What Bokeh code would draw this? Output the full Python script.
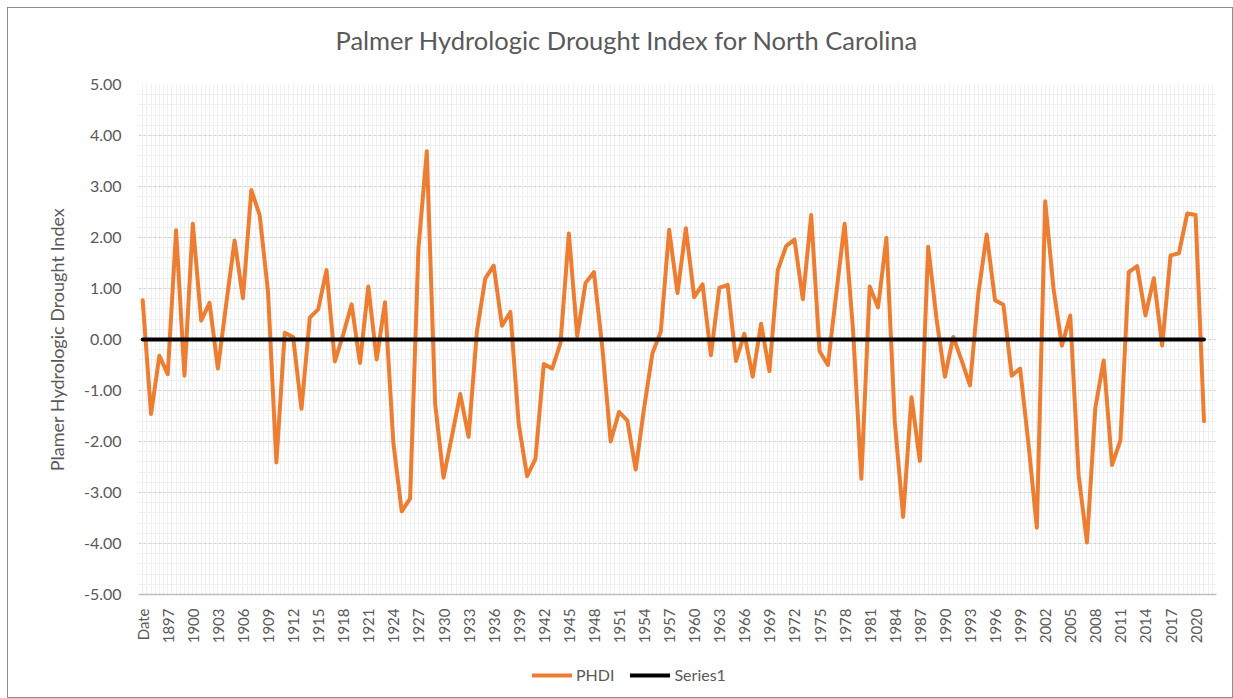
import math
from bokeh.plotting import figure
from bokeh.layouts import column
from bokeh.models import Range1d, FixedTicker, NumeralTickFormatter, Legend, LegendItem, Title
from bokeh.embed import file_html
from bokeh.resources import INLINE

# ---------------- data ----------------
categories = ["Date"] + [str(y) for y in range(1895, 2022)] + [""]

phdi = [
    0.77, -1.46, -0.32, -0.68, 2.14, -0.71, 2.27, 0.37, 0.72, -0.57,
    0.70, 1.94, 0.81, 2.93, 2.44, 0.93, -2.41, 0.13, 0.05, -1.36,
    0.43, 0.59, 1.36, -0.43, 0.10, 0.69, -0.46, 1.04, -0.39, 0.73,
    -2.03, -3.37, -3.12, 1.79, 3.69, -1.26, -2.71, -1.90, -1.07, -1.91,
    0.16, 1.20, 1.45, 0.27, 0.54, -1.66, -2.68, -2.34, -0.48, -0.57,
    -0.07, 2.08, 0.07, 1.11, 1.32, -0.15, -2.00, -1.42, -1.59, -2.55,
    -1.35, -0.27, 0.15, 2.15, 0.91, 2.18, 0.83, 1.08, -0.31, 1.01,
    1.07, -0.42, 0.11, -0.73, 0.31, -0.62, 1.36, 1.83, 1.96, 0.79,
    2.44, -0.23, -0.50, 0.90, 2.27, 0.20, -2.73, 1.04, 0.63, 1.99,
    -1.61, -3.48, -1.13, -2.38, 1.82, 0.40, -0.73, 0.05, -0.41, -0.90,
    0.90, 2.06, 0.77, 0.68, -0.71, -0.57, -2.05, -3.69, 2.71, 0.99,
    -0.12, 0.47, -2.66, -3.98, -1.34, -0.41, -2.46, -1.98, 1.32, 1.44,
    0.47, 1.20, -0.12, 1.65, 1.69, 2.47, 2.44, -1.60,
]

series1 = [
    0, 0, 0, 0, 0, 0, 0, 0, 0, 0, 0, 0, 0, 0, 0, 0,
    0, 0, 0, 0, 0, 0, 0, 0, 0, 0, 0, 0, 0, 0, 0, 0,
    0, 0, 0, 0, 0, 0, 0, 0, 0, 0, 0, 0, 0, 0, 0, 0,
    0, 0, 0, 0, 0, 0, 0, 0, 0, 0, 0, 0, 0, 0, 0, 0,
    0, 0, 0, 0, 0, 0, 0, 0, 0, 0, 0, 0, 0, 0, 0, 0,
    0, 0, 0, 0, 0, 0, 0, 0, 0, 0, 0, 0, 0, 0, 0, 0,
    0, 0, 0, 0, 0, 0, 0, 0, 0, 0, 0, 0, 0, 0, 0, 0,
    0, 0, 0, 0, 0, 0, 0, 0, 0, 0, 0, 0, 0, 0, 0, 0,
]

y_ticks = [-5, -4, -3, -2, -1, 0, 1, 2, 3, 4, 5]
series_names = ["PHDI", "Series1"]
series_colors = ["#ED7D31", "#000000"]

title_text = "Palmer Hydrologic Drought Index for North Carolina"
y_title = "Plamer Hydrologic Drought Index"

FONT = "Lato"
GRAY_TXT = "#595959"

x_idx = list(range(len(phdi)))
n_cat = len(categories)

W = 1224
p = figure(width=W, height=645, output_backend="svg", toolbar_location=None, title=None,
           x_range=Range1d(-0.5, n_cat - 0.5), y_range=Range1d(y_ticks[0], y_ticks[-1]),
           min_border_left=130, min_border_right=16, min_border_top=76, min_border_bottom=59)
p.background_fill_color = "white"
p.border_fill_color = "white"
p.outline_line_color = None

# grids
minor_y = [round(y_ticks[0] + 0.2 * k, 2) for k in range(int((y_ticks[-1] - y_ticks[0]) / 0.2) + 1)]
p.ygrid.ticker = FixedTicker(ticks=y_ticks[1:], minor_ticks=minor_y)
p.ygrid.grid_line_color = "#d4d4d4"
p.ygrid.grid_line_dash = "3 2"
p.ygrid.grid_line_width = 1
p.ygrid.minor_grid_line_color = "#efefef"
p.xgrid.ticker = FixedTicker(ticks=[-0.5 + 0.5 * k for k in range(2 * n_cat + 1)])
p.xgrid.grid_line_color = "#efefef"
p.xgrid.grid_line_width = 1

# x axis
p.xaxis.ticker = FixedTicker(ticks=list(range(0, n_cat, 3)))
p.xaxis.major_label_overrides = {i: categories[i] for i in range(0, n_cat, 3)}
p.xaxis.major_label_orientation = math.pi / 2
p.xaxis.major_tick_line_color = None
p.xaxis.minor_tick_line_color = None
p.xaxis.axis_line_color = "#bfbfbf"
p.xaxis.axis_line_width = 1.5
p.xaxis.major_label_standoff = 8
p.xaxis.major_label_text_font = FONT
p.xaxis.major_label_text_font_size = "15px"
p.xaxis.major_label_text_color = GRAY_TXT

# y axis
p.yaxis.ticker = FixedTicker(ticks=y_ticks)
p.yaxis.formatter = NumeralTickFormatter(format="0.00")
p.yaxis.axis_line_color = None
p.yaxis.major_tick_line_color = None
p.yaxis.minor_tick_line_color = None
p.yaxis.major_tick_out = 0
p.yaxis.major_tick_in = 0
p.yaxis.minor_tick_out = 0
p.yaxis.major_label_standoff = 17
p.yaxis.major_label_text_font = FONT
p.yaxis.major_label_text_font_size = "16px"
p.yaxis.major_label_text_color = GRAY_TXT
p.yaxis.axis_label = y_title
p.yaxis.axis_label_text_font = FONT
p.yaxis.axis_label_text_font_style = "normal"
p.yaxis.axis_label_text_font_size = "18px"
p.yaxis.axis_label_text_color = GRAY_TXT
p.yaxis.axis_label_standoff = 13

# series
r1 = p.line(x_idx, phdi, line_color=series_colors[0], line_width=4, line_join="round", line_cap="round")
r2 = p.line(x_idx, series1, line_color=series_colors[1], line_width=4, line_cap="round")

# spacer (nearest the frame) then the title above it
p.add_layout(Title(text=" ", text_font_size="20px", standoff=6, text_color="white"), "above")
p.add_layout(Title(text=title_text, align="left", offset=197, standoff=0,
                   text_font=FONT, text_font_size="25.5px", text_font_style="normal",
                   text_color=GRAY_TXT), "above")

# ---- legend strip below the chart (frame aligned with the chart frame) ----
q = figure(width=W, height=44, output_backend="svg", toolbar_location=None, title=None,
           x_axis_location=None, y_axis_location=None,
           x_range=Range1d(0, 1), y_range=Range1d(0, 1),
           min_border_left=0, min_border_right=0, min_border_top=0, min_border_bottom=0)
q.outline_line_color = None
q.background_fill_color = "white"
q.border_fill_color = "white"
q.xgrid.visible = False
q.ygrid.visible = False
# off-range stand-in renderers, used only for the legend swatches
k1 = q.line(x=[-10, -9], y=[-10, -10], line_color=series_colors[0], line_width=4, line_cap="round")
k2 = q.line(x=[-10, -9], y=[-10, -10], line_color=series_colors[1], line_width=4, line_cap="round")
legend = Legend(items=[LegendItem(label=series_names[0], renderers=[k1]),
                       LegendItem(label=series_names[1], renderers=[k2])],
                orientation="horizontal", location=(394, 13),
                glyph_width=40, glyph_height=18, label_height=18, label_standoff=4,
                spacing=16, padding=0, margin=0, border_line_color=None,
                background_fill_alpha=0, label_text_font=FONT,
                label_text_font_size="16px", label_text_color=GRAY_TXT)
q.add_layout(legend)

layout = column(p, q, spacing=0,
                styles={"margin-left": "7px", "margin-top": "7px", "border": "1px solid #8c8c8c"})

open("out.html", "w").write(file_html(layout, INLINE))
